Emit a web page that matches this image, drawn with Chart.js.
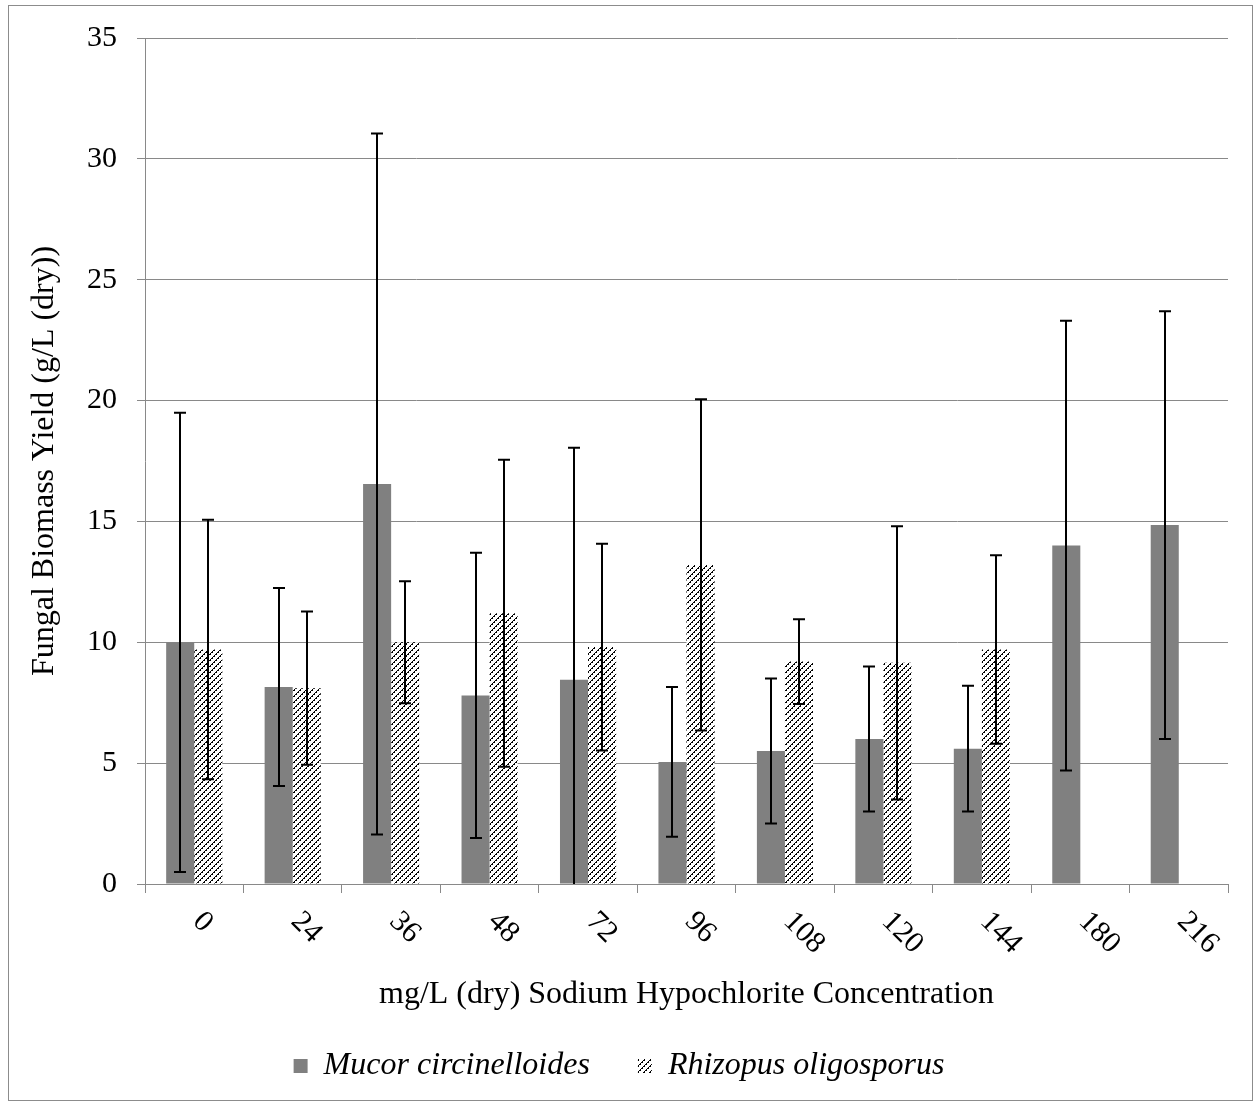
<!DOCTYPE html>
<html>
<head>
<meta charset="utf-8">
<script src="https://cdn.jsdelivr.net/npm/chart.js@4.4.1/dist/chart.umd.min.js"></script>
<style>
  html, body { margin: 0; padding: 0; background: #fff; }
</style>
</head>
<body>
<canvas id="barChart" width="1255" height="1104"></canvas>
<script>
// ------------ DATA ------------ //
var concentrations = ["0", "24", "36", "48", "72", "96", "108", "120", "144", "180", "216"];
var mucorYield = [10.0, 8.15, 16.55, 7.8, 8.45, 5.05, 5.5, 6.0, 5.6, 14.0, 14.85];
var mucorError = [9.5, 4.1, 14.5, 5.9, 9.6, 3.1, 3.0, 3.0, 2.6, 9.3, 8.85];
var rhizopusYield = [9.7, 8.1, 10.0, 11.2, 9.8, 13.2, 9.2, 9.15, 9.7, null, null];
var rhizopusError = [5.37, 3.17, 2.52, 6.35, 4.28, 6.85, 1.75, 5.65, 3.9, null, null];
var yTicks = [0, 5, 10, 15, 20, 25, 30, 35];

var serif = "'Liberation Serif', 'Times New Roman', serif";
var lineGray = '#898989';

// hatch pattern for the Rhizopus bars
function makeHatch() {
    var c = document.createElement('canvas');
    c.width = 6; c.height = 6;
    var g = c.getContext('2d');
    g.fillStyle = '#fff';
    g.fillRect(0, 0, 6, 6);
    g.fillStyle = '#000';
    for (var px = 0; px < 6; px++) {
        for (var py = 0; py < 6; py++) {
            var d = (px + py) % 6;
            if (d === 5 || (d === 0 && px % 2 === 0)) g.fillRect(px, py, 1, 1);
        }
    }
    return g.createPattern(c, 'repeat');
}
var hatch = makeHatch();

// ------------ PLUGINS ------------ //
var frame = {
    id: 'frame',
    beforeDraw: function (chart) {
        var ctx = chart.ctx;
        ctx.save();
        ctx.fillStyle = '#fff';
        ctx.fillRect(0, 0, chart.width, chart.height);
        ctx.strokeStyle = '#8c8c8c';
        ctx.lineWidth = 1;
        ctx.strokeRect(8.5, 5.5, chart.width - 11, chart.height - 9);
        ctx.restore();
    }
};

var errorBars = {
    id: 'errorBars',
    afterDatasetsDraw: function (chart) {
        var ctx = chart.ctx;
        var ys = chart.scales.y;
        var area = chart.chartArea;
        ctx.save();
        ctx.beginPath();
        ctx.rect(area.left, area.top - 10, area.right - area.left, area.bottom - area.top + 10);
        ctx.clip();
        ctx.strokeStyle = '#000';
        ctx.lineWidth = 2;
        [[0, mucorYield, mucorError], [1, rhizopusYield, rhizopusError]].forEach(function (s) {
            var meta = chart.getDatasetMeta(s[0]);
            meta.data.forEach(function (bar, i) {
                if (s[1][i] == null) return;
                var x = Math.round(bar.x);
                var top = ys.getPixelForValue(s[1][i] + s[2][i]);
                var bot = ys.getPixelForValue(s[1][i] - s[2][i]);
                ctx.beginPath();
                ctx.moveTo(x, top); ctx.lineTo(x, bot);
                ctx.moveTo(x - 6, top); ctx.lineTo(x + 6, top);
                ctx.moveTo(x - 6, bot); ctx.lineTo(x + 6, bot);
                ctx.stroke();
            });
        });
        ctx.restore();
    }
};

// x labels are turned clockwise, so they are drawn here
var slantLabels = {
    id: 'slantLabels',
    afterDraw: function (chart) {
        var ctx = chart.ctx;
        var xs = chart.scales.x;
        ctx.save();
        ctx.fillStyle = '#000';
        ctx.font = '30px ' + serif;
        ctx.textAlign = 'left';
        ctx.textBaseline = 'middle';
        concentrations.forEach(function (lab, i) {
            ctx.save();
            ctx.translate(xs.getPixelForValue(i) + 3, xs.top + 33);
            ctx.rotate(Math.PI / 4);
            ctx.fillText(lab, 0, 0);
            ctx.restore();
        });
        ctx.restore();
    }
};

// ------------ CHART ------------ //
new Chart("barChart", {
    type: "bar",
    data: {
        labels: concentrations,
        datasets: [{
            label: "Mucor circinelloides",
            data: mucorYield,
            backgroundColor: '#808080',
            borderWidth: 0
        }, {
            label: "Rhizopus oligosporus",
            data: rhizopusYield,
            backgroundColor: hatch,
            borderWidth: 0
        }]
    },
    plugins: [frame, errorBars, slantLabels],
    options: {
        responsive: false,
        animation: false,
        devicePixelRatio: 1,
        categoryPercentage: 0.57,
        barPercentage: 1.0,
        layout: { padding: { left: 10, right: 27, top: 37, bottom: 12 } },
        plugins: {
            tooltip: { enabled: false },
            legend: {
                position: 'bottom',
                labels: {
                    boxWidth: 14,
                    boxHeight: 14,
                    padding: 48,
                    color: '#000',
                    font: { family: serif, size: 32, style: 'italic' }
                }
            }
        },
        scales: {
            x: {
                grid: { drawOnChartArea: false, tickLength: 9, color: lineGray, offset: true },
                border: { color: lineGray },
                ticks: { display: false },
                title: {
                    display: true,
                    text: "mg/L (dry) Sodium Hypochlorite Concentration",
                    color: '#000',
                    font: { family: serif, size: 32, lineHeight: 1 },
                    padding: { top: 0, bottom: -9 }
                },
                afterFit: function (scale) { scale.height = 118; }
            },
            y: {
                min: 0,
                max: 35,
                afterBuildTicks: function (scale) {
                    scale.ticks = yTicks.map(function (v) { return { value: v }; });
                },
                grid: { color: lineGray, tickLength: 8 },
                border: { color: lineGray },
                ticks: {
                    color: '#000',
                    padding: 20,
                    font: { family: serif, size: 30 }
                },
                title: {
                    display: true,
                    text: "Fungal Biomass Yield (g/L (dry))",
                    color: '#000',
                    font: { family: serif, size: 32, lineHeight: 1 },
                    padding: { top: 19, bottom: 0 }
                },
                afterFit: function (scale) { scale.width = 135; }
            }
        }
    }
});
</script>
</body>
</html>
